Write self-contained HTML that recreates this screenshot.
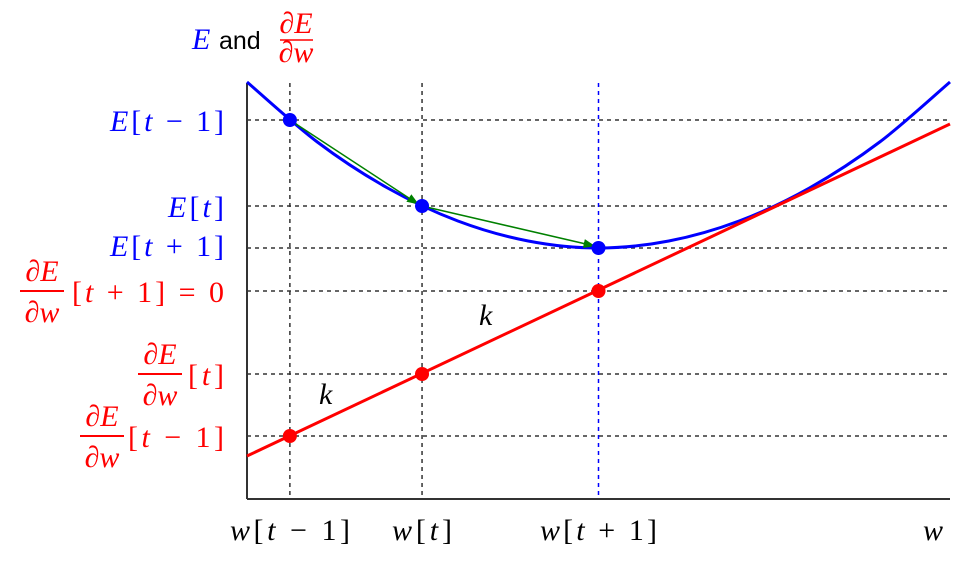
<!DOCTYPE html>
<html><head><meta charset="utf-8"><style>
body{margin:0;background:#fff}
svg{display:block}
.m{font-family:"Liberation Serif",serif;font-style:italic;font-size:30px}
.n{font-family:"Liberation Serif",serif;font-size:30px}
</style></head><body>
<svg id="c" width="975" height="561">
<defs><marker id="ah" markerWidth="12" markerHeight="9" refX="11" refY="4.5" orient="auto" markerUnits="userSpaceOnUse"><path d="M0,0 L12,4.5 L0,9 z" fill="#008000"/></marker></defs>
<g id="grid"></g>
<line x1="247" y1="83" x2="247" y2="499" stroke="#333" stroke-width="2"/>
<line x1="247" y1="499" x2="950" y2="499" stroke="#333" stroke-width="2"/>
<g id="marks"></g>
<g>
<text x="192" y="49" class="m" fill="#00f">E</text>
<text x="219" y="49" font-family="Liberation Sans,sans-serif" font-size="25" fill="#000">and</text>
<text x="296" y="33" class="m" font-size="19" fill="red" text-anchor="middle">∂E</text>
<line x1="280" y1="40" x2="313" y2="40" stroke="red" stroke-width="1.5"/>
<text x="296" y="62" class="m" font-size="19" fill="red" text-anchor="middle">∂w</text>
</g>
<g>
<text x="224" y="131" class="n" fill="#00f" text-anchor="end" textLength="114" lengthAdjust="spacing"><tspan font-style="italic">E</tspan>[<tspan font-style="italic">t</tspan> − 1]</text>
<text x="224" y="217" class="n" fill="#00f" text-anchor="end" textLength="56" lengthAdjust="spacing"><tspan font-style="italic">E</tspan>[<tspan font-style="italic">t</tspan>]</text>
<text x="224" y="256" class="n" fill="#00f" text-anchor="end" textLength="114" lengthAdjust="spacing"><tspan font-style="italic">E</tspan>[<tspan font-style="italic">t</tspan> + 1]</text>
<text x="42" y="281" class="m" fill="red" text-anchor="middle">∂E</text>
<line x1="20" y1="291" x2="64" y2="291" stroke="red" stroke-width="2"/>
<text x="42" y="322" class="m" fill="red" text-anchor="middle">∂w</text>
<text x="224" y="302" class="n" fill="red" text-anchor="end" textLength="152" lengthAdjust="spacing">[<tspan font-style="italic">t</tspan> + 1] = 0</text>
<text x="160" y="364" class="m" fill="red" text-anchor="middle">∂E</text>
<line x1="138" y1="374" x2="182" y2="374" stroke="red" stroke-width="2"/>
<text x="160" y="405" class="m" fill="red" text-anchor="middle">∂w</text>
<text x="224" y="385" class="n" fill="red" text-anchor="end" textLength="36" lengthAdjust="spacing">[<tspan font-style="italic">t</tspan>]</text>
<text x="102" y="426" class="m" fill="red" text-anchor="middle">∂E</text>
<line x1="80" y1="436" x2="124" y2="436" stroke="red" stroke-width="2"/>
<text x="102" y="467" class="m" fill="red" text-anchor="middle">∂w</text>
<text x="224" y="447" class="n" fill="red" text-anchor="end" textLength="96" lengthAdjust="spacing">[<tspan font-style="italic">t</tspan> − 1]</text>
</g>
<g>
<text x="230" y="540" class="n" textLength="120" lengthAdjust="spacing"><tspan font-style="italic">w</tspan>[<tspan font-style="italic">t</tspan> − 1]</text>
<text x="392" y="540" class="n" textLength="60" lengthAdjust="spacing"><tspan font-style="italic">w</tspan>[<tspan font-style="italic">t</tspan>]</text>
<text x="540" y="540" class="n" textLength="117" lengthAdjust="spacing"><tspan font-style="italic">w</tspan>[<tspan font-style="italic">t</tspan> + 1]</text>
<text x="933" y="540" class="m" text-anchor="middle">w</text>
</g>
<text x="479" y="325" class="m">k</text>
<text x="319" y="404" class="m">k</text>
</svg>
<script>
const curveW=[0,1,2,3,4,5,6,7,8,9,10];
const curveE=[41.7,35.7,31.1,27.8,25.8,25.1,25.8,27.8,31.1,35.7,41.7];
const lineW=[0,10];
const lineD=[4.3,37.5];
const ptW=[0.61,2.49,5.0];
const ptE=[37.9,29.3,25.1];
const ptD=[6.3,12.5,20.8];
const xs=w=>247+w*70.3;
const ys=v=>499-v*10;
const NS="http://www.w3.org/2000/svg";
const g=document.getElementById('grid'),m=document.getElementById('marks');
function mk(t,a,p){const e=document.createElementNS(NS,t);for(const k in a)e.setAttribute(k,a[k]);p.appendChild(e);return e;}
[...ptE,...ptD].forEach((v,i)=>{
const l=mk('line',{x1:247,x2:950,y1:ys(v),y2:ys(v),stroke:'#333','stroke-width':1.5,'stroke-dasharray':'4 4'},g);


});
ptW.forEach((w,i)=>{
const l=mk('line',{x1:xs(w),x2:xs(w),y1:83,y2:499,stroke:i==2?'#00f':'#333','stroke-width':1.5,'stroke-dasharray':'4 4'},g);


});
const P=curveW.map((w,i)=>[xs(w),ys(curveE[i])]);
let d='M'+P[0].join(',');
for(let i=0;i<P.length-1;i++){const p0=P[Math.max(0,i-1)],p1=P[i],p2=P[i+1],p3=P[Math.min(P.length-1,i+2)];
d+=` C${p1[0]+(p2[0]-p0[0])/6},${p1[1]+(p2[1]-p0[1])/6} ${p2[0]-(p3[0]-p1[0])/6},${p2[1]-(p3[1]-p1[1])/6} ${p2[0]},${p2[1]}`;}
const c=mk('path',{d:d,fill:'none',stroke:'#00f','stroke-width':3},m);


const rl=mk('line',{x1:xs(lineW[0]),y1:ys(lineD[0]),x2:xs(lineW[1]),y2:ys(lineD[1]),stroke:'red','stroke-width':3},m);


for(let i=0;i<ptW.length-1;i++){
const a=mk('line',{x1:xs(ptW[i]),y1:ys(ptE[i]),x2:xs(ptW[i+1])-4,y2:ys(ptE[i+1])-2,stroke:'#008000','stroke-width':1.5,'marker-end':'url(#ah)'},m);


}
ptW.forEach((w,i)=>{
const b=mk('circle',{cx:xs(w),cy:ys(ptE[i]),r:7,fill:'#00f'},m);


const r=mk('circle',{cx:xs(w),cy:ys(ptD[i]),r:7,fill:'red'},m);


});
</script>
</body></html>
